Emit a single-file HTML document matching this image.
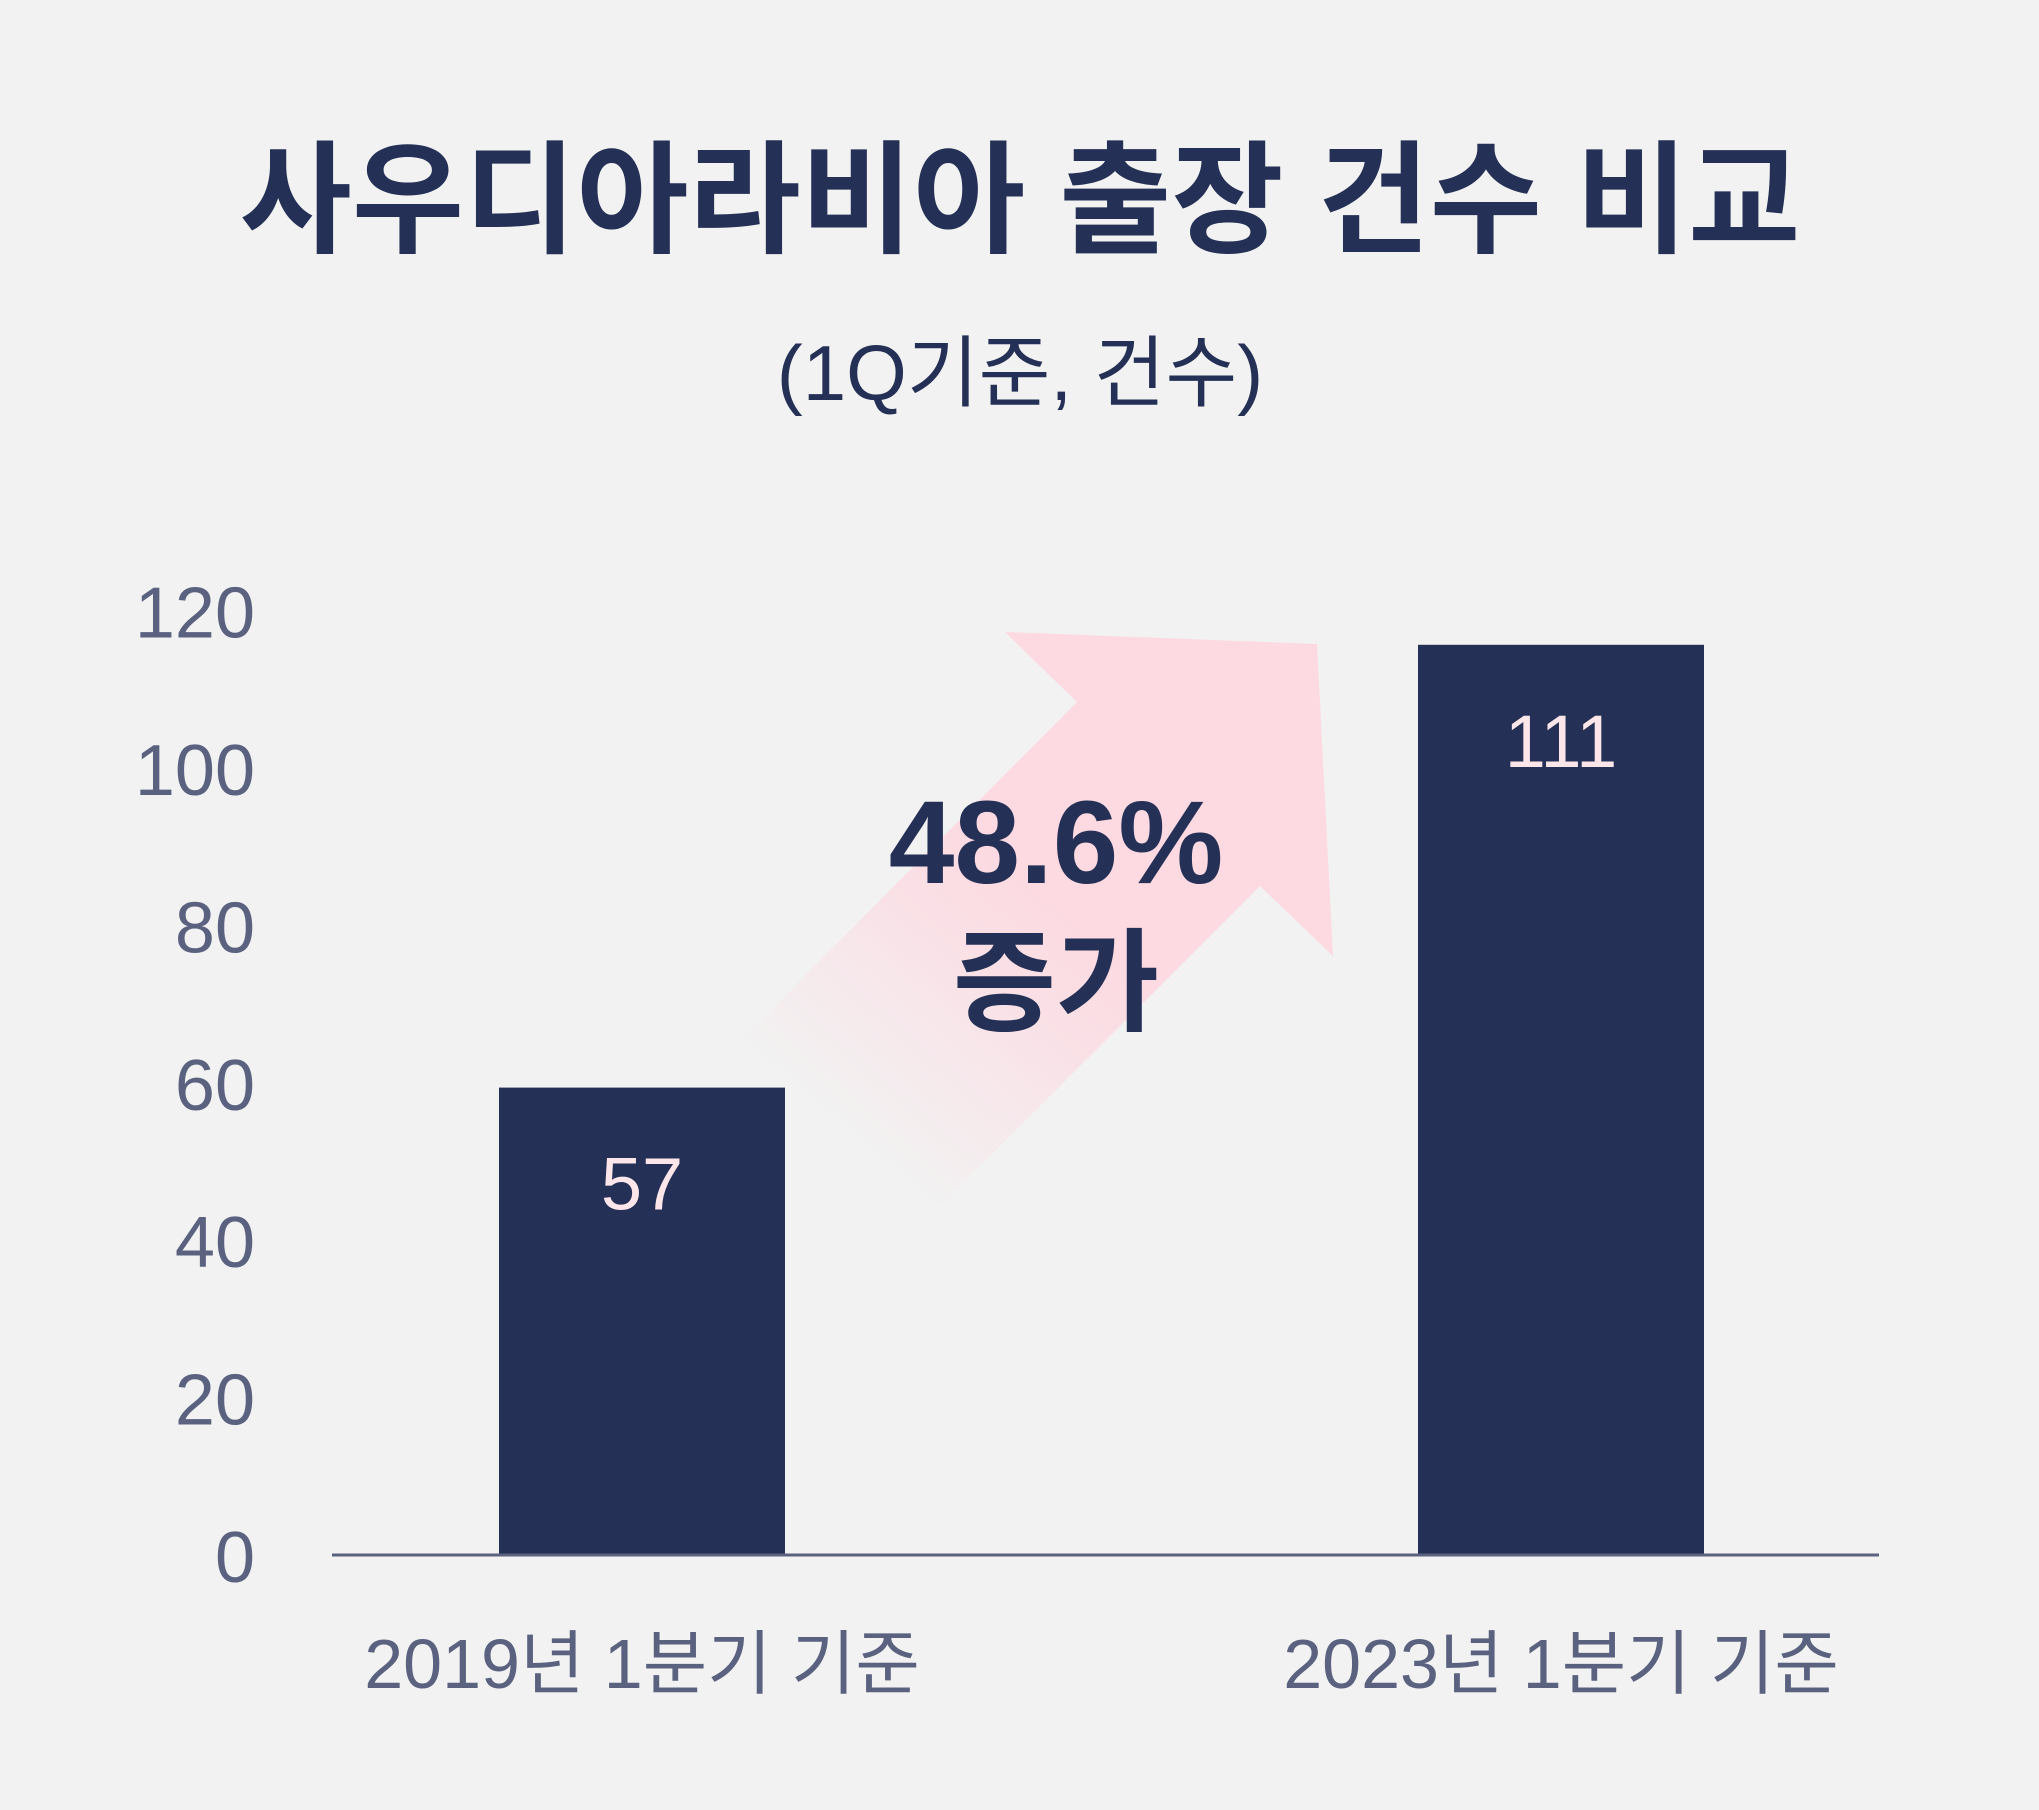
<!DOCTYPE html>
<html><head><meta charset="utf-8"><style>
body{margin:0;background:#f2f2f2;}
svg{display:block;}
text{font-family:"Liberation Sans","Noto Sans CJK KR",sans-serif;}
</style></head><body>
<svg width="2039" height="1810" viewBox="0 0 2039 1810">
<defs>
<linearGradient id="ag" x1="0.2" y1="0.85" x2="0.55" y2="0.45">
<stop offset="0" stop-color="#fdd9e1" stop-opacity="0"/>
<stop offset="1" stop-color="#fdd9e1" stop-opacity="1"/>
</linearGradient>
</defs>
<text x="1020" y="243" text-anchor="middle" font-size="122" font-weight="bold" fill="#243055">사우디아라비아 출장 건수 비교</text>
<text x="1020" y="400" text-anchor="middle" font-size="78" fill="#243055">(1Q기준, 건수)</text>
<polygon points="1005,632 1317,644 1333,956 1260,886 917,1229 728,1053 1077,702" fill="url(#ag)"/>
<g id="ticks"></g>
<g id="bars"></g>
<line x1="332" y1="1555" x2="1879" y2="1555" stroke="#5a6280" stroke-width="3"/>
<text x="1056" y="883" text-anchor="middle" font-size="118" font-weight="bold" fill="#243055">48.6%</text>
<text x="1056" y="1022" text-anchor="middle" font-size="112" font-weight="bold" fill="#243055">증가</text>
</svg>
<script>
const categories=["2019년 1분기 기준","2023년 1분기 기준"];
const values=[57,111];
const tickValues=[0,20,40,60,80,100,120];
const tickLabels=["0","20","40","60","80","100","120"];
const NS="http://www.w3.org/2000/svg";
const base=1555;
function yBar(v){return base-v*8.2;}
function yTick(v){return base-v*7.87;}
function xCenter(i){return 642+i*919;}
const tg=document.getElementById('ticks');
tickValues.forEach((v,i)=>{
 const t=document.createElementNS(NS,'text');
 t.setAttribute('x',255);t.setAttribute('y',yTick(v)+27);
 t.setAttribute('text-anchor','end');t.setAttribute('font-size','72');t.setAttribute('fill','#5a6280');
 t.textContent=tickLabels[i];
 
 
 tg.appendChild(t);
});
const bg=document.getElementById('bars');
values.forEach((v,i)=>{
 const r=document.createElementNS(NS,'rect');
 const cx=xCenter(i);
 r.setAttribute('x',cx-143);r.setAttribute('width',286);
 r.setAttribute('y',yBar(v));r.setAttribute('height',base-yBar(v));
 r.setAttribute('fill','#243055');
 
 
 bg.appendChild(r);
 const l=document.createElementNS(NS,'text');
 l.setAttribute('x',cx);l.setAttribute('y',yBar(v)+122);
 l.setAttribute('text-anchor','middle');l.setAttribute('font-size','74');l.setAttribute('fill','#fde6ea');
 l.textContent=v;
 
 
 bg.appendChild(l);
 const c=document.createElementNS(NS,'text');
 c.setAttribute('x',cx);c.setAttribute('y',1688);
 c.setAttribute('text-anchor','middle');c.setAttribute('font-size','70');c.setAttribute('fill','#5a6280');
 c.textContent=categories[i];
 
 
 bg.appendChild(c);
});
</script>
</body></html>
